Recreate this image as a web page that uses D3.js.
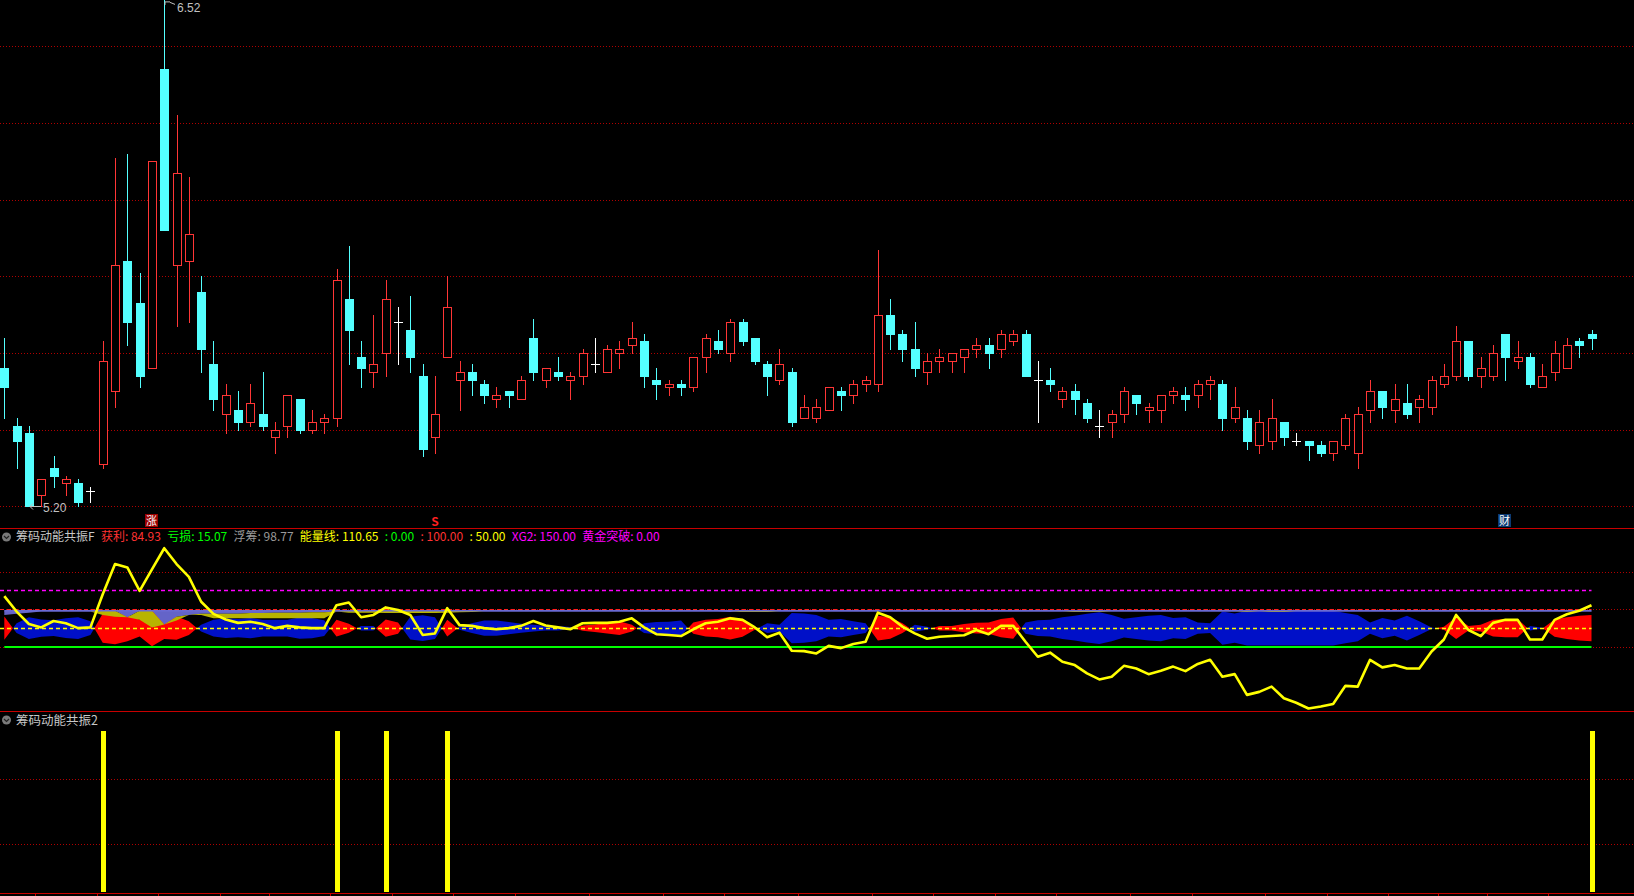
<!DOCTYPE html>
<html>
<head>
<meta charset="utf-8">
<script src="https://cdn.jsdelivr.net/npm/d3@7"></script>
<style>
  body { margin: 0; background: #000; overflow: hidden; }
  text { font-family: "Noto Sans CJK SC", "Noto Sans", sans-serif; }
</style>
</head>
<body>
<div id="chart"></div>
<script>
// Daily candles (price)
var openP  = [5.56,5.41,5.39,5.23,5.30,5.26,5.26,5.24,5.31,5.50, 5.84,5.73,5.56,6.34,5.83,5.84,5.76,5.57,5.44,5.45,
              5.42,5.44,5.38,5.41,5.48,5.40,5.42,5.43,5.74,5.59, 5.55,5.60,5.68,5.66,5.54,5.38,5.59,5.53,5.55,5.52,
              5.48,5.50,5.48,5.64,5.53,5.55,5.53,5.54,5.57,5.55, 5.60,5.62,5.63,5.53,5.51,5.52,5.51,5.59,5.63,5.60,
              5.68,5.64,5.57,5.53,5.55,5.43,5.43,5.45,5.50,5.49, 5.52,5.52,5.70,5.65,5.61,5.55,5.58,5.58,5.59,5.61,
              5.62,5.61,5.63,5.65,5.53,5.53,5.48,5.50,5.47,5.41, 5.42,5.44,5.49,5.45,5.45,5.49,5.49,5.49,5.52,5.52,
              5.43,5.43,5.36,5.37,5.42,5.37,5.37,5.36,5.34,5.36, 5.34,5.45,5.50,5.45,5.47,5.46,5.46,5.52,5.54,5.63,
              5.54,5.54,5.65,5.58,5.59,5.51,5.55,5.56,5.63,5.65];
var highP  = [5.64,5.43,5.41,5.27,5.33,5.28,5.27,5.25,5.63,6.11, 6.12,5.81,6.10,6.52,6.22,6.06,5.80,5.63,5.52,5.50,
              5.52,5.55,5.42,5.49,5.48,5.45,5.44,5.82,5.88,5.63, 5.70,5.79,5.72,5.75,5.57,5.54,5.80,5.58,5.57,5.53,
              5.51,5.50,5.54,5.69,5.56,5.59,5.55,5.61,5.64,5.62, 5.63,5.68,5.65,5.56,5.53,5.53,5.59,5.65,5.66,5.69,
              5.69,5.64,5.58,5.61,5.56,5.49,5.48,5.51,5.51,5.53, 5.54,5.87,5.74,5.66,5.68,5.60,5.61,5.60,5.61,5.64,
              5.64,5.66,5.66,5.66,5.58,5.56,5.51,5.52,5.48,5.45, 5.45,5.51,5.49,5.47,5.49,5.51,5.51,5.53,5.54,5.53,
              5.51,5.45,5.45,5.48,5.42,5.39,5.37,5.37,5.37,5.44, 5.46,5.53,5.50,5.52,5.52,5.49,5.54,5.57,5.67,5.63,
              5.59,5.62,5.65,5.63,5.60,5.57,5.63,5.64,5.64,5.66];
var lowP   = [5.43,5.30,5.20,5.20,5.25,5.23,5.20,5.21,5.30,5.46, 5.62,5.51,5.56,5.92,5.67,5.68,5.55,5.45,5.39,5.40,
              5.41,5.40,5.34,5.38,5.39,5.39,5.39,5.41,5.57,5.51, 5.51,5.54,5.57,5.55,5.33,5.34,5.59,5.45,5.49,5.47,
              5.46,5.46,5.48,5.53,5.51,5.53,5.48,5.52,5.55,5.55, 5.56,5.60,5.51,5.48,5.49,5.49,5.50,5.55,5.60,5.58,
              5.62,5.57,5.49,5.52,5.41,5.43,5.42,5.45,5.45,5.47, 5.50,5.50,5.61,5.58,5.54,5.52,5.55,5.55,5.55,5.59,
              5.56,5.59,5.62,5.54,5.42,5.50,5.46,5.44,5.42,5.38, 5.38,5.42,5.44,5.42,5.42,5.47,5.45,5.46,5.48,5.40,
              5.42,5.35,5.34,5.35,5.36,5.36,5.32,5.33,5.32,5.35, 5.30,5.42,5.43,5.42,5.43,5.42,5.44,5.51,5.53,5.53,
              5.51,5.53,5.53,5.56,5.51,5.51,5.53,5.56,5.59,5.61];
var closeP = [5.51,5.37,5.20,5.27,5.28,5.27,5.21,5.24,5.58,5.83, 5.68,5.54,6.10,5.92,6.07,5.91,5.61,5.48,5.49,5.42,
              5.47,5.41,5.40,5.49,5.40,5.42,5.43,5.79,5.66,5.56, 5.57,5.74,5.68,5.59,5.35,5.44,5.72,5.55,5.53,5.49,
              5.49,5.49,5.53,5.55,5.56,5.54,5.54,5.60,5.57,5.61, 5.61,5.64,5.54,5.52,5.52,5.51,5.59,5.64,5.61,5.68,
              5.63,5.58,5.54,5.57,5.42,5.46,5.46,5.51,5.49,5.52, 5.53,5.70,5.65,5.61,5.56,5.58,5.59,5.60,5.61,5.62,
              5.60,5.65,5.65,5.54,5.53,5.52,5.50,5.48,5.43,5.41, 5.44,5.50,5.47,5.46,5.49,5.50,5.48,5.52,5.53,5.43,
              5.46,5.37,5.42,5.43,5.38,5.37,5.36,5.34,5.37,5.43, 5.44,5.50,5.46,5.48,5.44,5.48,5.53,5.54,5.63,5.54,
              5.56,5.60,5.59,5.59,5.52,5.54,5.60,5.62,5.62,5.64];

// 能量线
var energy = [135,94,61,52,69,63,50,52,140,220, 211,149,206,262,220,186,120,88,73,64,
              67,61,50,56,52,50,50,111,118,79, 85,105,98,85,32,36,103,58,56,50,
              47,50,56,69,57,52,47,63,64,64, 67,76,52,34,32,29,47,63,67,76,
              72,52,26,38,-10,-11,-17,3,-3,8, 14,91,79,54,36,22,27,29,31,45,
              34,56,56,14,-26,-15,-39,-48,-70,-86, -79,-50,-57,-72,-63,-52,-64,-45,-34,-79,
              -72,-127,-119,-105,-136,-148,-163,-158,-151,-103, -105,-34,-54,-48,-57,-57,-12,20,85,45,
              29,64,72,72,20,20,72,87,96,110.65];

// 获利 (band between 获利 and 100-获利, red above 50, blue below)
var profit = [81,37,21,27,29,24,21,32,89,93, 85,72,98,79,81,68,41,28,24,26,
              23,28,28,28,22,23,29,72,62,44, 44,73,65,20,16,21,72,46,37,30,
              30,34,38,41,44,44,47,57,60,64, 68,59,37,34,33,30,65,72,74,80,
              73,54,37,41,10,11,15,28,26,32, 37,83,78,63,41,46,56,56,61,64,
              65,74,78,35,29,28,21,17,12,8, 15,25,21,17,15,23,21,35,37,6,
              11,4,4,4,4,4,4,4,4,10, 15,35,23,30,17,32,48,54,79,56,
              59,72,74,74,44,49,73,79,83,84.93];

// 浮筹 cloud near the 100 line
var floatHi = [85,88,91,94,94,94,94,94,96,96, 79,96,96,60,80,85,88,88,88,88,
               90,90,91,91,91,92,92,94,96,96, 96,96,96,96,96,96,96,96,96,94,
               94,94,94,94,94,94,94,94,94,94, 94,94,94,94,94,94,94,94,94,93,
               96,96,96,94,94,94,94,94,94,94, 94,94,94,94,94,94,94,94,94,94,
               94,94,94,94,94,94,94,96,96,96, 94,94,94,94,94,94,94,94,94,94,
               94,96,94,96,96,94,94,94,94,94, 94,94,94,94,94,94,94,94,94,94,
               94,94,94,94,94,94,94,94,94,94];
var goldLo  = [85,88,91,94,94,94,94,94,85,80, 79,72,52,60,70,85,85,76,76,76,
               76,76,76,76,76,76,76,94,91,91, 91,90,90,90,90,90,91,92,93,94,
               94,94,94,94,94,94,94,94,94,94, 94,94,94,94,94,94,94,94,94,93,
               93,93,93,94,94,94,94,94,94,94, 94,94,94,94,94,94,94,94,94,94,
               94,94,94,94,94,94,94,93,93,93, 94,94,94,94,94,94,94,94,94,94,
               94,93,94,93,93,94,94,94,94,94, 94,94,94,94,94,94,94,94,94,94,
               94,94,94,94,94,94,94,94,94,94];

// 筹码动能共振2 signal bars
var signalBars = [8, 27, 31, 36, 129];

var priceGrid = [5.2, 5.4, 5.6, 5.8, 6.0, 6.2, 6.4];
var indGrid = [0, 100, 200];
var barGrid = [0.3, 0.7];
var levels = [
  { v: 150, color: "#ff00ff", dash: "4,3", w: 1.5 },
  { v: 100, color: "#ff2020", dash: "4,3", w: 1 },
  { v: 50,  color: "#ffff00", dash: "4,3", w: 1.5 }
];
var timeTicks = [2.5,7.5,12.5,17.5,21.5,26.5,31.5,36.5,41.5,47.5,53.5,58.5,64.5,70.5,75.5,80.5,85.5,91.5,96.5,102.5,107.5,112.5,116.5,120.5,125.5];

var legend1 = [
  { t: "筹码动能共振F", c: "#c8c8c8" },
  { t: "获利: 84.93", c: "#ff3232" },
  { t: "亏损: 15.07", c: "#00ff00" },
  { t: "浮筹: 98.77", c: "#9a9a9a" },
  { t: "能量线: 110.65", c: "#ffff00" },
  { t: ": 0.00", c: "#00ff00" },
  { t: ": 100.00", c: "#ff3232" },
  { t: ": 50.00", c: "#ffff00" },
  { t: "XG2: 150.00", c: "#ff00ff" },
  { t: "黄金突破: 0.00", c: "#ff00ff" }
];

var W = 1634, H = 896;
var svg = d3.select("#chart").append("svg")
  .attr("width", W).attr("height", H)
  .style("background", "#000");

var x = d3.scaleLinear().domain([0, 129]).range([4.3, 1591.5]);
var yP = d3.scaleLinear().domain([5.2, 6.52]).range([506.3, 0.4]);
var yI = d3.scaleLinear().domain([0, 200]).range([647, 571.6]);
var yB = d3.scaleLinear().domain([0, 1]).range([892, 731]);
var px = function(v) { return Math.round(v) + 0.5; };

// ---------- main panel ----------
var main = svg.append("g").attr("shape-rendering", "crispEdges");
main.selectAll("line.grid").data(priceGrid).enter().append("line")
  .attr("x1", 0).attr("x2", W)
  .attr("y1", function(d) { return px(yP(d)); }).attr("y2", function(d) { return px(yP(d)); })
  .attr("stroke", "#b00000").attr("stroke-dasharray", "1,2");

var idx = d3.range(openP.length);
var candles = main.selectAll("g.candle").data(idx).enter().append("g");
candles.each(function(i) {
  var g = d3.select(this);
  var cx = Math.round(x(i));
  var o = openP[i], c = closeP[i];
  var col = c > o ? "#ff3636" : (c < o ? "#54ffff" : "#ffffff");
  g.append("line")
    .attr("x1", cx + 0.5).attr("x2", cx + 0.5)
    .attr("y1", Math.round(yP(highP[i]))).attr("y2", Math.round(yP(lowP[i])) + 1)
    .attr("stroke", col);
  var top = Math.round(yP(Math.max(o, c))), bot = Math.round(yP(Math.min(o, c)));
  if (c > o) {
    g.append("rect").attr("x", cx - 3.5).attr("y", top + 0.5)
      .attr("width", 8).attr("height", Math.max(1, bot - top))
      .attr("fill", "#000").attr("stroke", col);
  } else if (c < o) {
    g.append("rect").attr("x", cx - 4).attr("y", top)
      .attr("width", 9).attr("height", Math.max(1, bot - top + 1))
      .attr("fill", col);
  } else {
    g.append("line").attr("x1", cx - 4).attr("x2", cx + 5)
      .attr("y1", top + 0.5).attr("y2", top + 0.5).attr("stroke", col);
  }
});

// high / low labels
var hiI = d3.maxIndex(highP), loI = d3.minIndex(lowP);
var hx = Math.round(x(hiI)), hy = yP(highP[hiI]);
svg.append("path").attr("d", "M" + (hx + 1) + "," + (hy + 1.5) + " h5 M" + (hx + 1) + "," + (hy + 1.5) + " v3 M" + (hx + 6) + "," + (hy + 2) + " l5,2")
  .attr("stroke", "#c0c0c0").attr("fill", "none");
svg.append("text").attr("x", hx + 13).attr("y", hy + 12).attr("fill", "#c0c0c0")
  .style("font-family", "'Liberation Sans', 'DejaVu Sans', sans-serif")
  .attr("font-size", 12).text(highP[hiI].toFixed(2));
var lx = Math.round(x(loI)), ly = Math.round(yP(lowP[loI])) + 0.5;
svg.append("path").attr("d", "M" + (lx + 12) + "," + ly + " H" + (lx + 1) + " M" + (lx + 4) + "," + (ly - 3) + " L" + (lx + 1) + "," + ly + " L" + (lx + 4) + "," + (ly + 3))
  .attr("stroke", "#c0c0c0").attr("fill", "none");
svg.append("text").attr("x", lx + 14).attr("y", ly + 5).attr("fill", "#c0c0c0")
  .style("font-family", "'Liberation Sans', 'DejaVu Sans', sans-serif")
  .attr("font-size", 12).text(lowP[loI].toFixed(2));

// markers under the candles
function boxMark(i, ch, bg) {
  var cx = Math.round(x(i));
  svg.append("rect").attr("x", cx - 7).attr("y", 514).attr("width", 13).attr("height", 13).attr("fill", bg);
  svg.append("text").attr("x", cx - 0.5).attr("y", 525).attr("text-anchor", "middle")
    .attr("font-size", 11).attr("fill", "#ffffff").text(ch);
}
boxMark(12, "涨", "#9a0000");
boxMark(122, "财", "#0c3a72");
svg.append("text").attr("x", Math.round(x(35))).attr("y", 526).attr("text-anchor", "middle")
  .attr("font-size", 12).attr("font-weight", "bold").attr("fill", "#ff2020").text("S");

// panel separators
[528, 711, 893].forEach(function(y) {
  svg.append("line").attr("x1", 0).attr("x2", W).attr("y1", y + 0.5).attr("y2", y + 0.5)
    .attr("stroke", "#c80000").attr("shape-rendering", "crispEdges");
});

// ---------- indicator panel 1 ----------
svg.append("clipPath").attr("id", "clip1").append("rect")
  .attr("x", 0).attr("y", 529).attr("width", W).attr("height", 181);
var p1 = svg.append("g").attr("clip-path", "url(#clip1)");

p1.selectAll("line.grid").data(indGrid).enter().append("line")
  .attr("x1", 0).attr("x2", W)
  .attr("y1", function(d) { return px(yI(d)); }).attr("y2", function(d) { return px(yI(d)); })
  .attr("stroke", "#b00000").attr("stroke-dasharray", "1,2").attr("shape-rendering", "crispEdges");

// band points with exact crossings of the 50 line
var band = [];
profit.forEach(function(v, i) {
  var d = v - 50;
  if (i > 0) {
    var dp = profit[i - 1] - 50;
    if (dp * d < 0) band.push({ i: i - 1 + dp / (dp - d), d: 0 });
  }
  band.push({ i: i, d: d });
});
function bandArea(sign) {
  return d3.area()
    .x(function(p) { return x(p.i); })
    .y0(function(p) { return yI(50 + Math.max(sign * p.d, 0)); })
    .y1(function(p) { return yI(50 - Math.max(sign * p.d, 0)); });
}
p1.append("path").datum(band).attr("d", bandArea(1)).attr("fill", "#ff0000");
p1.append("path").datum(band).attr("d", bandArea(-1)).attr("fill", "#0010c8");

// chip cloud near 100
p1.append("path").datum(idx).attr("fill", "#6464c8")
  .attr("d", d3.area().x(function(i) { return x(i); })
    .y0(function() { return yI(96); })
    .y1(function(i) { return yI(floatHi[i]); }));
p1.append("path").datum(idx).attr("fill", "#b8b400")
  .attr("d", d3.area().x(function(i) { return x(i); })
    .y0(function(i) { return yI(floatHi[i]); })
    .y1(function(i) { return yI(goldLo[i]); }));
p1.append("line").attr("x1", x(0)).attr("x2", x(129))
  .attr("y1", yI(96)).attr("y2", yI(96)).attr("stroke", "#6a6ad4").attr("stroke-width", 1.5);

p1.selectAll("line.level").data(levels).enter().append("line")
  .attr("x1", 0).attr("x2", x(129))
  .attr("y1", function(d) { return px(yI(d.v)); }).attr("y2", function(d) { return px(yI(d.v)); })
  .attr("stroke", function(d) { return d.color; })
  .attr("stroke-width", function(d) { return d.w; })
  .attr("stroke-dasharray", function(d) { return d.dash; });

p1.append("line").attr("x1", x(0)).attr("x2", x(129))
  .attr("y1", yI(0)).attr("y2", yI(0)).attr("stroke", "#00ff00").attr("stroke-width", 2.2);

p1.append("path").datum(energy)
  .attr("d", d3.line().x(function(d, i) { return x(i); }).y(function(d) { return yI(d); }))
  .attr("fill", "none").attr("stroke", "#ffff00").attr("stroke-width", 2.6)
  .attr("stroke-linejoin", "round");

// legend 1
function icon(cy) {
  svg.append("circle").attr("cx", 6.5).attr("cy", cy).attr("r", 4.5).attr("fill", "#7a7a7a");
  svg.append("path").attr("d", "M4," + (cy - 1) + " L6.5," + (cy + 1.5) + " L9," + (cy - 1))
    .attr("stroke", "#222").attr("stroke-width", 1.2).attr("fill", "none");
}
icon(537);
var lx0 = 16;
legend1.forEach(function(d) {
  var t = svg.append("text").attr("x", lx0).attr("y", 541).attr("font-size", 12)
    .attr("fill", d.c).text(d.t);
  lx0 += t.node().getComputedTextLength() + 6.3;
});

// ---------- indicator panel 2 ----------
svg.selectAll("line.bgrid").data(barGrid).enter().append("line")
  .attr("x1", 0).attr("x2", W)
  .attr("y1", function(d) { return px(yB(d)); }).attr("y2", function(d) { return px(yB(d)); })
  .attr("stroke", "#b00000").attr("stroke-dasharray", "1,2").attr("shape-rendering", "crispEdges");

svg.selectAll("rect.sig").data(signalBars).enter().append("rect")
  .attr("x", function(i) { return Math.round(x(i)) - 2; })
  .attr("y", yB(1)).attr("width", 5).attr("height", yB(0) - yB(1))
  .attr("fill", "#ffff00");

icon(720);
svg.append("text").attr("x", 16).attr("y", 725).attr("font-size", 12.5)
  .attr("fill", "#c8c8c8").text("筹码动能共振2");

// time ticks
svg.selectAll("line.tt").data(timeTicks).enter().append("line")
  .attr("x1", function(d) { return px(x(d)); }).attr("x2", function(d) { return px(x(d)); })
  .attr("y1", 894).attr("y2", 896).attr("stroke", "#c80000");
</script>
</body>
</html>
